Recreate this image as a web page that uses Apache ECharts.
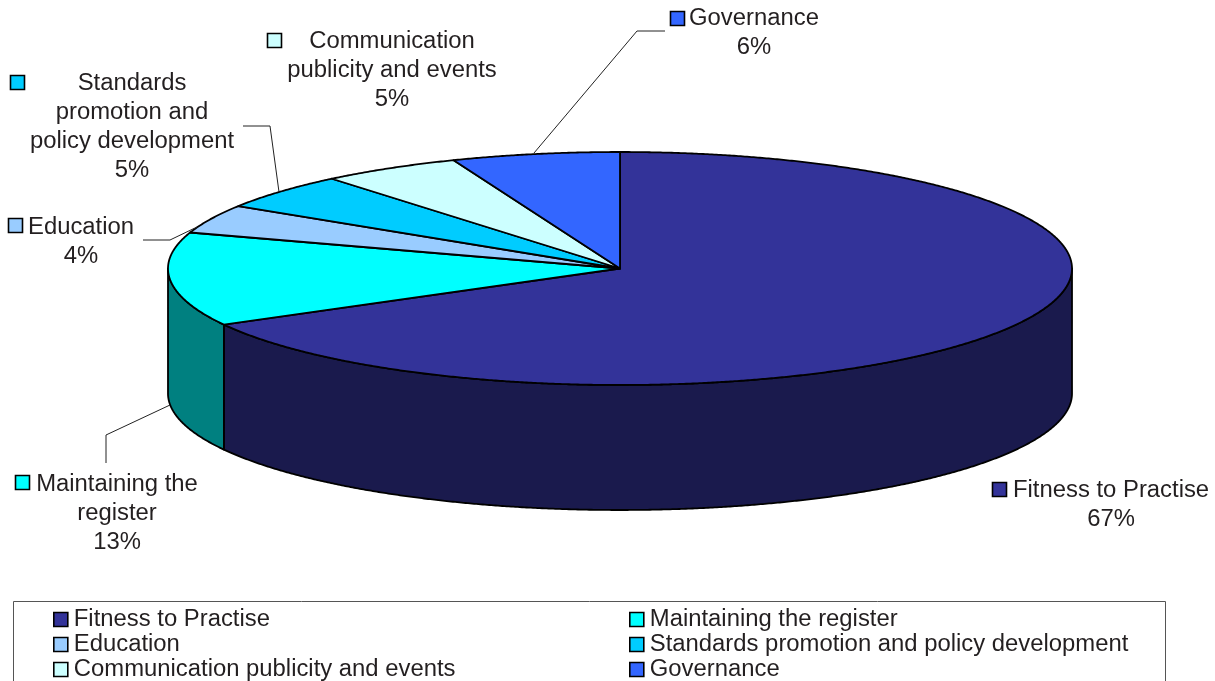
<!DOCTYPE html>
<html><head><meta charset="utf-8">
<style>html,body{margin:0;padding:0;background:#fff;overflow:hidden}#c{width:1215px;height:681px}</style>
<script src="https://cdn.jsdelivr.net/npm/echarts@6/dist/echarts.min.js"></script>
</head><body><div id="c"></div>
<script>
const categories = ['Fitness to Practise','Maintaining the register','Education','Standards promotion and policy development','Communication publicity and events','Governance'];
const shareValues = [67,13,4,5,5,6];
const wrappedLabels = ['Fitness to Practise','Maintaining the\nregister','Education','Standards\npromotion and\npolicy development','Communication\npublicity and events','Governance'];

const topColors = ['#333399','#00ffff','#99ccff','#00ccff','#ccffff','#3366ff'];
const sideColors = ['#1a1a4d','#008080','#4d6680','#006680','#668080','#1a3380'];
const TEXT = '#231f20', FONT = '23.85px "Liberation Sans", Arial, sans-serif';
const pie = {cx:620, cy:268.5, rx:452, ry:116.5, depth:125};
// Label layout: text centre, first-line centre y, key box x/y, leader polyline
const labelLayout = [
  {x:1111, y:490, key:[992,482], leader:null, textX:1013, single:true},
  {x:117, y:484, key:[15,475], leader:[[106,463],[106,435],[170,405]]},
  {x:81, y:227, key:[8,218], leader:[[143,240],[170,240],[197,227]]},
  {x:132, y:83, key:[10,75], leader:[[243,126],[270,126],[279,192]]},
  {x:392, y:41, key:[267,33], leader:null},
  {x:754, y:18, key:[670,11], leader:[[534,153],[637,31],[665,31]]}
];
const total = shareValues.reduce((a,b)=>a+b,0);
const starts = []; shareValues.reduce((acc,v,i)=>{starts[i]=acc; return acc+v;},0);
const ang = v => v/total*Math.PI*2;
const pt = (a,dy=0)=>[pie.cx+pie.rx*Math.sin(a), pie.cy-pie.ry*Math.cos(a)+dy];
function arc(a0,a1,dy){const n=Math.max(2,Math.ceil((a1-a0)/0.005)),r=[];for(let i=0;i<=n;i++)r.push(pt(a0+(a1-a0)*i/n,dy));return r;}

function renderSlice(i){
  return function(params, api){
    const a0=ang(starts[i]), a1=ang(starts[i]+api.value(0));
    const kids=[];
    const s0=Math.max(a0,Math.PI/2), s1=Math.min(a1,Math.PI*1.5);
    if(s1>s0){
      kids.push({type:'polygon',z2:1,shape:{points:arc(s0,s1,0).concat(arc(s0,s1,pie.depth).reverse())},
        style:{fill:sideColors[i],stroke:'#000',lineWidth:1.8,lineJoin:'round'}});
    }
    kids.push({type:'polygon',z2:2,shape:{points:[[pie.cx,pie.cy]].concat(arc(a0,a1,0))},
      style:{fill:topColors[i],stroke:'#000',lineWidth:1.8,lineJoin:'round'}});
    const L=labelLayout[i];
    if(L.leader) kids.push({type:'polyline',z2:3,shape:{points:L.leader},style:{fill:null,stroke:'#222',lineWidth:1}});
    kids.push({type:'rect',z2:3,shape:{x:L.key[0]+.5,y:L.key[1]+.5,width:14,height:14},style:{fill:topColors[i],stroke:'#000',lineWidth:1.6}});
    if(L.single){
      kids.push({type:'text',z2:3,style:{text:wrappedLabels[i],x:L.textX,y:L.y,font:FONT,fill:TEXT,textAlign:'left',textVerticalAlign:'middle'}});
      kids.push({type:'text',z2:3,style:{text:api.value(0)+'%',x:L.x,y:L.y+29,font:FONT,fill:TEXT,textAlign:'center',textVerticalAlign:'middle'}});
    } else {
      const lines=(wrappedLabels[i]+'\n'+api.value(0)+'%').split('\n');
      lines.forEach((t,k)=>kids.push({type:'text',z2:3,style:{text:t,x:L.x,y:L.y+k*29.2,font:FONT,fill:TEXT,textAlign:'center',textVerticalAlign:'middle'}}));
    }
    return {type:'group',children:kids};
  };
}

const chart = echarts.init(document.getElementById('c'),null,{renderer:'canvas'});
const legendBase = {orient:'vertical',top:607,height:100,itemWidth:14,itemHeight:14,itemGap:0,icon:'rect',selectedMode:false,
  itemStyle:{borderColor:'#000',borderWidth:1.6},padding:0,
  textStyle:{fontFamily:'"Liberation Sans", Arial, sans-serif',fontSize:23.85,color:TEXT,lineHeight:25,padding:[0,0,0,1]}};
chart.setOption({
  animation:false, backgroundColor:'#fff',
  graphic:[{type:'rect',silent:true,z:-1,shape:{x:13.5,y:601.5,width:1152,height:120},style:{fill:'#fff',stroke:'#555',lineWidth:1}}],
  legend:[
    Object.assign({},legendBase,{left:53,data:[categories[0],categories[2],categories[4]]}),
    Object.assign({},legendBase,{left:629,data:[categories[1],categories[3],categories[5]]})
  ],
  series:categories.map((name,i)=>({
    type:'custom',name,coordinateSystem:'none',silent:true,
    itemStyle:{color:topColors[i]},
    renderItem:renderSlice(i),
    encode:{value:0},
    data:[[shareValues[i]]]
  }))
});
</script></body></html>
